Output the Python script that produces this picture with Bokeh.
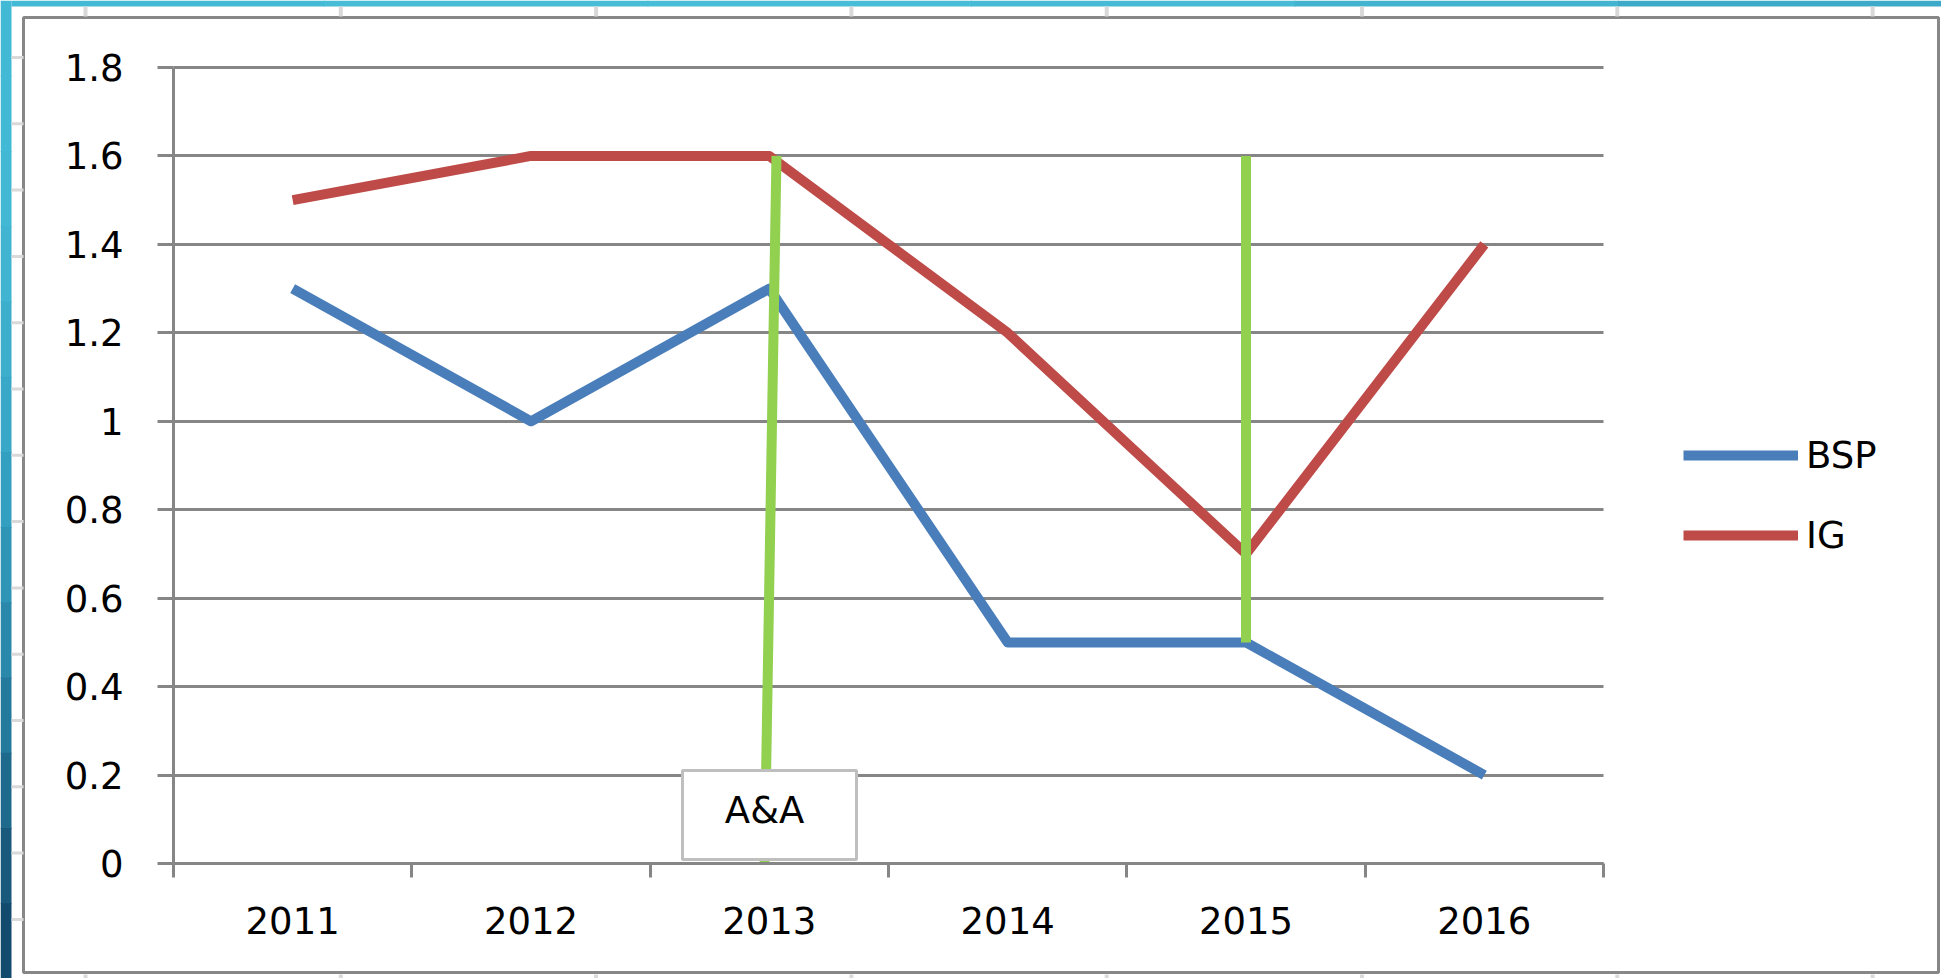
from bokeh.plotting import figure
from bokeh.models import (Range1d, FixedTicker, CustomJSTickFormatter, Legend, LegendItem,
                          BoxAnnotation, Label, ColumnDataSource, Grid)
from bokeh.embed import file_html
from bokeh.resources import INLINE

# ---- data ----
years = ["2011", "2012", "2013", "2014", "2015", "2016"]
bsp = [1.3, 1.0, 1.3, 0.5, 0.5, 0.2]
ig = [1.5, 1.6, 1.6, 1.2, 0.7, 1.4]
y_ticks = [0, 0.2, 0.4, 0.6, 0.8, 1.0, 1.2, 1.4, 1.6, 1.8]
y_max = 1.8
marker_years = ["2013", "2015"]
marker_top = [1.6, 1.6]
marker_bottom = [0.0, 0.5]
note_year = "2013"
note_text = "A&A"

# ---- layout / styles ----
W, H = 1941, 978
FONT = "DejaVu Sans"
FS = "37px"
GRID = "#868686"
BLUE = "#4A7EBB"
RED = "#BE4B48"
GREEN = "#92D050"
LW = 10
# pixel anchors of the plot area inside the canvas
PX_X0, PX_X1 = 173, 1603      # left / right edge of the category axis
PX_Y0, PX_Y1 = 863, 67        # value 0 / value y_max

n = len(years)
ux = (PX_X1 - PX_X0) / n
uy = (PX_Y0 - PX_Y1) / y_max
x_start = -PX_X0 / ux
x_end = n + (W - PX_X1) / ux
y_start = -(H - PX_Y0) / uy
y_end = y_max + PX_Y1 / uy


def px(v):
    return x_start + v / ux


def py(v):
    return y_end - v / uy


x = [i + 0.5 for i in range(n)]
x_bounds = list(range(n + 1))
label_map = {xi: yr for xi, yr in zip(x, years)}

p = figure(width=W, height=H, output_backend="svg", toolbar_location=None,
           x_range=Range1d(x_start, x_end), y_range=Range1d(y_start, y_end),
           min_border=0, min_border_left=0, min_border_right=0,
           min_border_top=0, min_border_bottom=0,
           background_fill_color="white", border_fill_color="white", outline_line_color=None)

xa = p.xaxis[0]
xa.fixed_location = 0
xa.bounds = (0, n)
xa.ticker = FixedTicker(ticks=x, minor_ticks=x_bounds)
xa.major_label_overrides = label_map
xa.major_tick_line_color = None
xa.major_tick_in = 0
xa.major_tick_out = 0
xa.minor_tick_in = 0
xa.minor_tick_out = 14
xa.minor_tick_line_color = GRID
xa.minor_tick_line_width = 3
xa.axis_line_color = GRID
xa.axis_line_width = 3
xa.major_label_text_font = FONT
xa.major_label_text_font_size = FS
xa.major_label_text_color = "#000000"
xa.major_label_standoff = 29

ya = p.yaxis[0]
ya.fixed_location = 0
ya.bounds = (0, y_max)
ya.ticker = FixedTicker(ticks=y_ticks)
ya.formatter = CustomJSTickFormatter(code="return String(Math.round(tick*10)/10);")
ya.major_tick_in = 0
ya.major_tick_out = 16
ya.major_tick_line_color = GRID
ya.major_tick_line_width = 3
ya.minor_tick_line_color = None
ya.axis_line_color = GRID
ya.axis_line_width = 3
ya.major_label_text_font = FONT
ya.major_label_text_font_size = FS
ya.major_label_text_color = "#000000"
ya.major_label_standoff = 34

p.xgrid.visible = False
if "cross_bounds" in Grid.properties():
    p.ygrid.cross_bounds = (0, n)
    p.ygrid.grid_line_color = GRID
    p.ygrid.grid_line_width = 3
else:
    p.ygrid.visible = False
    p.segment(x0=[0] * len(y_ticks), x1=[n] * len(y_ticks), y0=y_ticks, y1=y_ticks,
              line_color=GRID, line_width=3)

src = ColumnDataSource(dict(x=x, bsp=bsp, ig=ig))
r_bsp = p.line("x", "bsp", source=src, line_color=BLUE, line_width=LW, line_join="round")
r_ig = p.line("x", "ig", source=src, line_color=RED, line_width=LW, line_join="round")

# vertical green marker lines (the first one is drawn with a slight slant)
mx = [years.index(yr) + 0.5 for yr in marker_years]
top_dx = [0.03, 0.0]
bot_dx = [-0.02, 0.0]
p.segment(x0=[m + d for m, d in zip(mx, top_dx)], y0=marker_top,
          x1=[m + d for m, d in zip(mx, bot_dx)], y1=marker_bottom,
          line_color=GREEN, line_width=LW)

LEG_ITEM_H, LEG_SPACING = 44, 36
leg_height = 2 * LEG_ITEM_H + LEG_SPACING
legend = Legend(items=[LegendItem(label="BSP", renderers=[r_bsp]),
                       LegendItem(label="IG", renderers=[r_ig])],
                location=(1683, H - 433 - leg_height), orientation="vertical",
                glyph_width=115, glyph_height=LEG_ITEM_H, label_height=LEG_ITEM_H,
                spacing=LEG_SPACING, label_standoff=8, padding=0, margin=0,
                border_line_color=None, background_fill_alpha=0,
                label_text_font=FONT, label_text_font_size=FS, label_text_color="#000000")
p.add_layout(legend)

# note box "A&A"
nx = years.index(note_year) + 0.5
p.add_layout(BoxAnnotation(left=px(682), right=px(856), top=py(770), bottom=py(859),
                           fill_color="white", fill_alpha=1.0,
                           line_color="#BFBFBF", line_width=3, line_alpha=1.0))
p.add_layout(Label(x=nx - 0.02, y=py(810), text=note_text, text_align="center",
                   text_baseline="middle", text_font=FONT, text_font_size=FS,
                   text_color="#000000"))


# ---- decorations: chart border, slide strips, ruler ticks ----
def pbox(l, r, t, b, **kw):
    return BoxAnnotation(left=px(l), right=px(r), top=py(t), bottom=py(b), **kw)


p.add_layout(pbox(23, 1938, 17, 972, fill_alpha=0, line_color="#878787",
                  line_width=3, line_alpha=1.0))

strip_colors = ["#43bad5", "#43bad5", "#42b8d4", "#40b4d1", "#3dafcd", "#39a8c8",
                "#34a0c1", "#2f95b7", "#2a88ab", "#247a9d", "#1e6a8d", "#18597c", "#134b6e"]
seg = H / len(strip_colors)
for i, c in enumerate(strip_colors):
    p.add_layout(pbox(0, 11, i * seg, (i + 1) * seg + 1, fill_color=c, fill_alpha=1.0,
                      line_color=None))
top_colors = ["#43bad5", "#46bcd6", "#48bdd7", "#47bbd5", "#43b4d0", "#3eaaca"]
tseg = W / len(top_colors)
for i, c in enumerate(top_colors):
    p.add_layout(pbox(max(i * tseg, 11), (i + 1) * tseg + 1, 0, 6, fill_color=c,
                      fill_alpha=1.0, line_color=None))

for k in range(8):
    xc = 85 + 255.3 * k
    p.add_layout(pbox(xc - 2, xc + 2, 6, 16, fill_color="#d9d9d9", fill_alpha=1.0, line_color=None))
    p.add_layout(pbox(xc - 2, xc + 2, 974, 978, fill_color="#d9d9d9", fill_alpha=1.0, line_color=None))
for k in range(14):
    yc = 57 + 66.3 * k
    p.add_layout(pbox(11, 23, yc - 1.5, yc + 1.5, fill_color="#d9d9d9", fill_alpha=1.0, line_color=None))

open("out.html", "w").write(file_html(p, INLINE))
